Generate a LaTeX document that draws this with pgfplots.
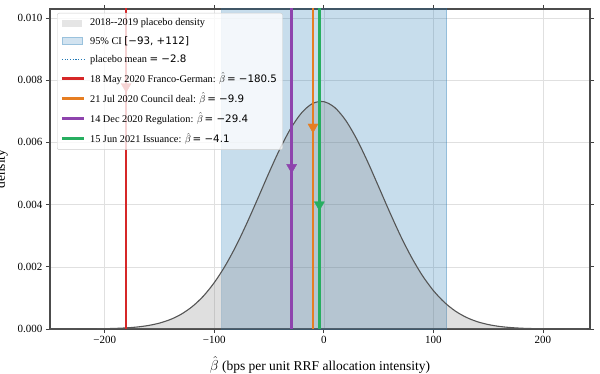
\documentclass[border=0pt]{standalone}
\usepackage{fontspec}
\usepackage{pgfplots}
\pgfplotsset{compat=1.18}
\setmainfont{Liberation Serif}
\newfontfamily\dv{DejaVu Sans}
\definecolor{tabblue}{HTML}{1F77B4}
\definecolor{cred}{HTML}{D62728}
\definecolor{corange}{HTML}{E67E22}
\definecolor{cpurple}{HTML}{8E44AD}
\definecolor{cgreen}{HTML}{27AE60}
\definecolor{curve}{HTML}{555555}
\begin{document}
\begin{tikzpicture}
\begin{axis}[
  name=ax,
  width=540pt, height=320pt, scale only axis,
  xmin=-250, xmax=243, ymin=0, ymax=0.01029,
  xtick={-200,-100,0,100,200},
  xticklabels={−200,−100,0,100,200},
  ytick={0,0.002,0.004,0.006,0.008,0.010},
  yticklabels={0.000,0.002,0.004,0.006,0.008,0.010},
  scaled y ticks=false,
  tick align=outside,
  major tick length=4pt,
  tick style={black!75, line width=0.8pt},
  axis line style={black!70, line width=1.1pt},
  grid=major,
  grid style={black!12, line width=0.6pt},
  tick label style={font=\fontsize{11}{12}\selectfont},
  label style={font=\fontsize{13.5}{15}\selectfont},
  xlabel={$\hat{\beta}$ (bps per unit RRF allocation intensity)},
  ylabel={density},
  xlabel shift=6pt,
  ylabel shift=3pt,
  legend cell align=left,
  legend style={at={(rel axis cs:0.013,0.9875)}, anchor=north west,
    fill=white, fill opacity=0.8, text opacity=1, draw=black!20,
    rounded corners=2pt, font=\fontsize{10.3}{12}\selectfont,
    row sep=5pt, column sep=3pt, inner sep=3.5pt},
]
% 95% CI span
\addplot[fill=tabblue, fill opacity=0.25, draw=tabblue, draw opacity=0.3, line width=1pt, forget plot]
  coordinates {(-93,0) (-93,0.0112) (112,0.0112) (112,0)} -- cycle;
% placebo density
\addplot[fill=gray, fill opacity=0.25, draw=none, forget plot] table {
x y
-250 0.0000002
-240 0.0000006
-230 0.0000012
-220 0.0000026
-210 0.0000053
-200 0.0000105
-190 0.0000200
-180 0.0000370
-170 0.0000660
-160 0.0001140
-150 0.0001910
-140 0.0003070
-130 0.0004800
-120 0.0007250
-110 0.0010570
-100 0.0014930
-90 0.0020350
-80 0.0026840
-70 0.0034240
-60 0.0042200
-50 0.0050310
-40 0.0057990
-30 0.0064630
-20 0.0069640
-10 0.0072560
0 0.0073100
10 0.0071210
20 0.0067070
30 0.0061080
40 0.0053780
50 0.0045780
60 0.0037690
70 0.0029990
80 0.0023090
90 0.0017170
100 0.0012360
110 0.0008600
120 0.0005780
130 0.0003760
140 0.0002360
150 0.0001440
160 0.0000840
170 0.0000480
180 0.0000260
190 0.0000140
200 0.0000072
210 0.0000036
220 0.0000017
230 0.0000008
240 0.0000004
} \closedcycle;
\addplot[curve, line width=1.1pt, smooth, forget plot] table {
x y
-250 0.0000002
-240 0.0000006
-230 0.0000012
-220 0.0000026
-210 0.0000053
-200 0.0000105
-190 0.0000200
-180 0.0000370
-170 0.0000660
-160 0.0001140
-150 0.0001910
-140 0.0003070
-130 0.0004800
-120 0.0007250
-110 0.0010570
-100 0.0014930
-90 0.0020350
-80 0.0026840
-70 0.0034240
-60 0.0042200
-50 0.0050310
-40 0.0057990
-30 0.0064630
-20 0.0069640
-10 0.0072560
0 0.0073100
10 0.0071210
20 0.0067070
30 0.0061080
40 0.0053780
50 0.0045780
60 0.0037690
70 0.0029990
80 0.0023090
90 0.0017170
100 0.0012360
110 0.0008600
120 0.0005780
130 0.0003760
140 0.0002360
150 0.0001440
160 0.0000840
170 0.0000480
180 0.0000260
190 0.0000140
200 0.0000072
210 0.0000036
220 0.0000017
230 0.0000008
240 0.0000004
};
% placebo mean
\addplot[tabblue, dotted, line width=1pt, forget plot] coordinates {(-2.8,0) (-2.8,0.0112)};
% event lines
\addplot[cred, line width=2.4pt, forget plot] coordinates {(-180.5,0) (-180.5,0.0112)};
\addplot[cred, only marks, mark=triangle*, mark size=5.8pt, mark options={rotate=180}, forget plot] coordinates {(-180.5,0.0078)};
\addplot[corange, line width=2.4pt, forget plot] coordinates {(-9.9,0) (-9.9,0.0112)};
\addplot[corange, only marks, mark=triangle*, mark size=5.8pt, mark options={rotate=180}, forget plot] coordinates {(-9.9,0.0065)};
\addplot[cpurple, line width=2.4pt, forget plot] coordinates {(-29.4,0) (-29.4,0.0112)};
\addplot[cpurple, only marks, mark=triangle*, mark size=5.8pt, mark options={rotate=180}, forget plot] coordinates {(-29.4,0.0052)};
\addplot[cgreen, line width=2.4pt, forget plot] coordinates {(-4.1,0) (-4.1,0.0112)};
\addplot[cgreen, only marks, mark=triangle*, mark size=5.8pt, mark options={rotate=180}, forget plot] coordinates {(-4.1,0.0040)};
% legend
\addlegendimage{legend image code/.code={\fill[gray!25, draw=none, sharp corners] (0pt,-3.5pt) rectangle (20pt,3.5pt);}}
\addlegendentry{2018-{}-2019 placebo density}
\addlegendimage{legend image code/.code={\fill[tabblue!25, draw=none, sharp corners] (0pt,-3.5pt) rectangle (20pt,3.5pt); \draw[tabblue!45, line width=0.8pt, sharp corners] (0pt,-3.5pt) rectangle (20pt,3.5pt);}}
\addlegendentry{95\% CI {\dv [−93, +112]}}
\addlegendimage{legend image code/.code={\draw[draw=tabblue, line width=1.1pt, dash pattern=on 1.1pt off 1.6pt, sharp corners] (0pt,0pt) -- (22pt,0pt);}}
\addlegendentry{placebo mean {\dv = −2.8}}
\addlegendimage{legend image code/.code={\draw[cred, line width=2.4pt, sharp corners] (0pt,0pt) -- (22pt,0pt);}}
\addlegendentry{18 May 2020 Franco-German: $\hat{\beta}$\,{\dv = −180.5}}
\addlegendimage{legend image code/.code={\draw[corange, line width=2.4pt, sharp corners] (0pt,0pt) -- (22pt,0pt);}}
\addlegendentry{21 Jul 2020 Council deal: $\hat{\beta}$\,{\dv = −9.9}}
\addlegendimage{legend image code/.code={\draw[cpurple, line width=2.4pt, sharp corners] (0pt,0pt) -- (22pt,0pt);}}
\addlegendentry{14 Dec 2020 Regulation: $\hat{\beta}$\,{\dv = −29.4}}
\addlegendimage{legend image code/.code={\draw[cgreen, line width=2.4pt, sharp corners] (0pt,0pt) -- (22pt,0pt);}}
\addlegendentry{15 Jun 2021 Issuance: $\hat{\beta}$\,{\dv = −4.1}}
\end{axis}
\pgfresetboundingbox
\path ([shift={(-50pt,-44pt)}]ax.south west) rectangle ([shift={(10pt,9pt)}]ax.north east);
\end{tikzpicture}
\end{document}
